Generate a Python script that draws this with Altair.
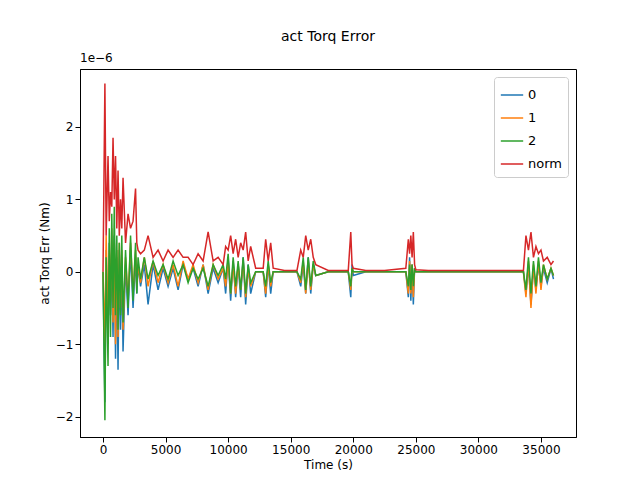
import altair as alt
import pandas as pd

times = [0, 150, 250, 400, 500, 600, 700, 800, 900, 1000, 1100, 1200, 1300, 1400, 1500, 1600,
         1800, 2000, 2200, 2400, 2600, 2700, 2800, 3000, 3300, 3600, 4000, 4400, 4800, 5200,
         5600, 6000, 6400, 6800, 7200, 7600, 8000, 8400, 8800, 9200, 9600, 9800, 10000, 10200,
         10400, 10600, 10800, 11000, 11200, 11400, 11600, 11800, 12200, 12800, 13000, 13200,
         13400, 13600, 14500, 15500, 15800, 16000, 16200, 16400, 16600, 16800, 17000, 18000,
         19600, 19800, 19900, 20000, 21000, 22500, 24200, 24400, 24500, 24600, 24700, 24800,
         24900, 25000, 26000, 28000, 30000, 32000, 33600, 33800, 34000, 34200, 34400, 34600,
         34800, 35000, 35200, 35500, 35800, 36000]

err_0 = [0, -1.8, 0.3, -1.0, 0.4, -0.6, 0.3, -0.9, 0.5, -1.2, 0.2, -1.35, 0.3, -0.8, 0.2, -1.1,
         0.1, -0.6, 0.3, -0.5, 0.2, -0.3, 0.1, -0.2, 0.1, -0.45, 0.1, -0.25, 0.05, -0.2,
         0.05, -0.25, 0.1, -0.1, 0.05, -0.2, 0.1, -0.3, 0.05, -0.15, 0.05, -0.3, 0.2, -0.4,
         0.15, -0.35, 0.1, -0.35, 0.2, -0.45, 0.1, -0.3, 0.0, 0.0, -0.35, 0.1,
         -0.3, 0.0, 0.0, 0.0, -0.2, 0.1, -0.3, 0.2, -0.3, 0.1, -0.05, 0.0,
         0.0, -0.35, 0.1, -0.05, 0.0, 0.0, 0.0, -0.35, 0.2, -0.4, 0.1, -0.45,
         0.05, 0.0, 0.0, 0.0, 0.0, 0.0, 0.0, -0.3, 0.1, -0.45, 0.05, -0.25,
         0.1, -0.2, 0.05, -0.15, 0.05, -0.1]

err_1 = [0, -1.0, 0.5, -0.7, 0.3, -0.4, 0.6, -0.7, 0.4, -1.0, 0.3, -0.9, 0.4, -0.5, 0.3, -0.8,
         0.2, -0.4, 0.4, -0.3, 0.3, -0.2, 0.1, -0.15, 0.2, -0.2, 0.15, -0.15, 0.1, -0.15,
         0.1, -0.2, 0.15, -0.1, 0.1, -0.15, 0.1, -0.25, 0.1, -0.1, 0.05, -0.2, 0.15, -0.3,
         0.1, -0.3, 0.1, -0.25, 0.15, -0.35, 0.05, -0.2, 0.0, 0.0, -0.3, 0.1,
         -0.2, 0.0, 0.0, 0.0, -0.15, 0.15, -0.3, 0.15, -0.25, 0.1, -0.05, 0.0,
         0.0, -0.25, 0.05, 0.0, 0.0, 0.0, 0.0, -0.3, 0.15, -0.3, 0.1, -0.35,
         0.05, 0.0, 0.0, 0.0, 0.0, 0.0, 0.0, -0.35, 0.15, -0.5, 0.1, -0.3,
         0.15, -0.25, 0.1, -0.1, 0.05, -0.05]

err_2 = [0, -2.05, 0.2, -1.3, 0.6, -0.9, 0.8, -0.5, 0.9, -0.6, 0.5, -0.8, 0.4, -0.6, 0.5, -0.7,
         0.3, -0.5, 0.5, -0.4, 0.4, -0.3, 0.2, -0.1, 0.2, -0.1, 0.15, -0.05, 0.1, -0.1,
         0.15, -0.05, 0.1, -0.15, 0.05, -0.1, 0.05, -0.2, 0.1, -0.05, 0.1, -0.1, 0.25, -0.3,
         0.2, -0.2, 0.15, -0.25, 0.2, -0.3, 0.1, -0.15, 0.0, 0.0, -0.2, 0.15,
         -0.15, 0.0, 0.0, 0.0, -0.1, 0.2, -0.25, 0.2, -0.2, 0.15, -0.05, 0.0,
         0.0, -0.2, 0.05, 0.0, 0.0, 0.0, 0.0, -0.2, 0.1, -0.25, 0.1, -0.2,
         0.05, 0.0, 0.0, 0.0, 0.0, 0.0, 0.0, -0.25, 0.2, -0.3, 0.15, -0.2,
         0.2, -0.15, 0.1, -0.1, 0.05, -0.05]

err_norm = [0, 2.6, 0.5, 1.6, 0.7, 1.1, 0.9, 1.85, 1.0, 1.6, 0.6, 1.4, 0.5, 1.0, 0.6, 1.3,
            0.4, 0.8, 0.6, 0.7, 1.15, 0.4, 0.3, 0.25, 0.3, 0.5, 0.2, 0.3, 0.15, 0.3,
            0.2, 0.3, 0.2, 0.2, 0.1, 0.25, 0.15, 0.55, 0.15, 0.2, 0.1, 0.35, 0.3, 0.5,
            0.25, 0.45, 0.2, 0.4, 0.3, 0.55, 0.15, 0.35, 0.05, 0.05, 0.45, 0.15,
            0.4, 0.05, 0.02, 0.02, 0.3, 0.2, 0.5, 0.3, 0.45, 0.2, 0.1, 0.02,
            0.02, 0.55, 0.1, 0.05, 0.02, 0.02, 0.05, 0.45, 0.25, 0.5, 0.2, 0.55,
            0.1, 0.03, 0.02, 0.02, 0.02, 0.02, 0.02, 0.5, 0.3, 0.55, 0.2, 0.35,
            0.25, 0.3, 0.15, 0.2, 0.1, 0.15]

series = {"0": err_0, "1": err_1, "2": err_2, "norm": err_norm}
rows = []
for name, vals in series.items():
    for t, v in zip(times, vals):
        rows.append({"t": t, "v": v, "series": name})
df = pd.DataFrame(rows)

lines = alt.Chart(df).mark_line(strokeWidth=1.5).encode(
    x=alt.X("t:Q", title="Time (s)", scale=alt.Scale(domain=[-1840, 37800], nice=False),
            axis=alt.Axis(values=list(range(0, 35001, 5000)), grid=False, format="d")),
    y=alt.Y("v:Q", title="act Torq Err (Nm)", scale=alt.Scale(domain=[-2.28, 2.8], nice=False),
            axis=alt.Axis(values=[-2, -1, 0, 1, 2], grid=False, format="d")),
    color=alt.Color("series:N", title=None,
                    scale=alt.Scale(domain=["0", "1", "2", "norm"],
                                    range=["#1f77b4", "#ff7f0e", "#2ca02c", "#d62728"]),
                    legend=alt.Legend(orient="top-right", strokeColor="#cccccc", fillColor="white",
                                      padding=6, offset=8, symbolType="stroke", symbolSize=500,
                                      labelFontSize=13, rowPadding=4, cornerRadius=3)),
    detail="series:N",
)

offset = alt.Chart(pd.DataFrame({"txt": ["1e\u22126"]})).mark_text(
    align="left", baseline="bottom", fontSize=12, dy=-4
).encode(x=alt.value(0), y=alt.value(0), text="txt:N")

chart = (lines + offset).properties(
    width=496, height=368,
    padding={"left": 30, "top": 22, "right": 5, "bottom": 5},
    title=alt.TitleParams("act Torq Error", fontSize=14, fontWeight="normal", offset=8),
).configure(font="DejaVu Sans").configure_view(stroke="black").configure_axis(
    domainColor="black", tickColor="black", labelFontSize=12, titleFontSize=12,
    titleFontWeight="normal", labelColor="black", titleColor="black"
)

chart.save("out.html", embed_options={"renderer": "svg", "actions": False})
